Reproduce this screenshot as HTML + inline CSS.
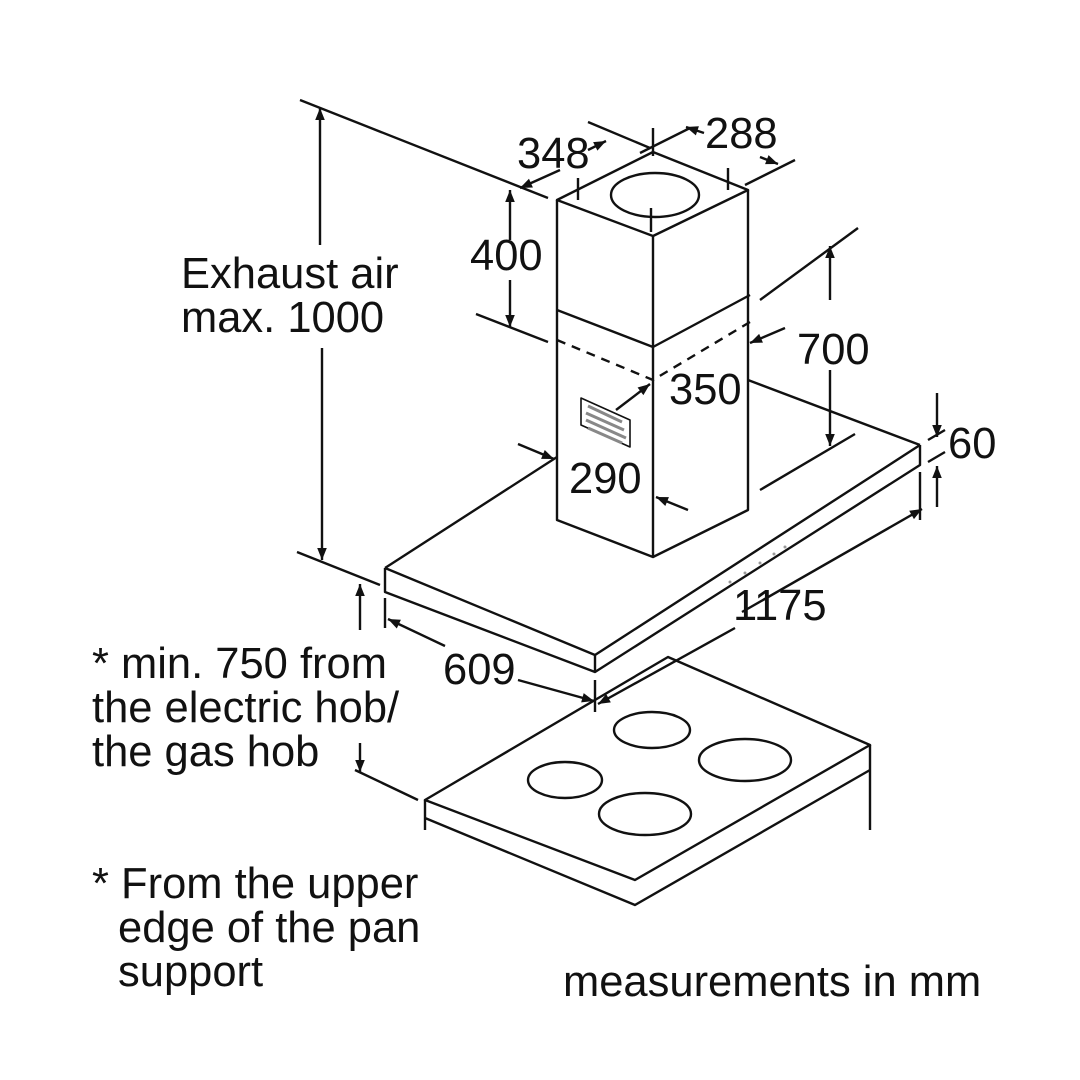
<!DOCTYPE html>
<html><head><meta charset="utf-8"><style>
html,body{margin:0;padding:0;background:#fff}
svg{display:block}
text{font-family:"Liberation Sans",Arial,sans-serif;fill:#111}
</style></head><body>
<svg width="1080" height="1080" viewBox="0 0 1080 1080" xmlns="http://www.w3.org/2000/svg">
<defs>
<marker id="a" viewBox="0 0 10 10" refX="10" refY="5" markerWidth="15" markerHeight="12" orient="auto-start-reverse" markerUnits="userSpaceOnUse"><path d="M0,1 L10,5 L0,9 z" fill="#111"/></marker>
</defs>
<g stroke="#111" stroke-width="2.4" fill="none" stroke-linejoin="round">
<path d="M557,200 L653,152 L748,190 L653,236 Z"/>
<ellipse cx="655" cy="195" rx="44" ry="22"/>
<path d="M578,178 v22 M653,128 v28 M728,168 v22 M651,208 v24"/>
<path d="M557,200 V520 L653,557 L748,510 V190"/>
<path d="M653,236 V557"/>
<path d="M557,310 L653,347 L750,295"/>
<path d="M557,340 L653,380 L750,322" stroke-dasharray="9,7"/>
<path d="M581,398 L630,420 L630,447 L581,425 Z" stroke-width="1.6"/>
<path d="M588,406 L622,422 M586,413 L624,430 M586,420 L626,438 M588,428 L622,443" stroke="#888" stroke-width="3"/>
<path d="M385,568 L595,655 L920,445 M385,568 L557,457 M748,380 L920,445"/>
<path d="M385,568 V592 L595,672 L920,465 V445 M595,655 V672"/>
<path d="M425,800 L635,880 L870,745 L668,657 Z"/>
<path d="M425,800 V830 M425,818 L635,905 L870,770 M870,745 V830"/>
<ellipse cx="652" cy="730" rx="38" ry="18"/>
<ellipse cx="745" cy="760" rx="46" ry="21"/>
<ellipse cx="565" cy="780" rx="37" ry="18"/>
<ellipse cx="645" cy="814" rx="46" ry="21"/>
<path d="M300,100 L548,198"/>
<path d="M320,245 V108" marker-end="url(#a)"/>
<path d="M322,348 V560" marker-end="url(#a)"/>
<path d="M297,552 L380,585"/>
<path d="M510,240 V190" marker-end="url(#a)"/>
<path d="M510,280 V327" marker-end="url(#a)"/>
<path d="M476,314 L548,342"/>
<path d="M588,122 L650,148 M690,128 L640,153 M745,185 L795,160"/>
<path d="M560,170 L520,188" marker-end="url(#a)"/>
<path d="M588,150 L606,141" marker-end="url(#a)"/>
<path d="M704,133 L686,127" marker-end="url(#a)"/>
<path d="M760,157 L778,164" marker-end="url(#a)"/>
<path d="M760,300 L858,228"/>
<path d="M830,300 V246" marker-end="url(#a)"/>
<path d="M830,370 V446" marker-end="url(#a)"/>
<path d="M760,490 L855,434"/>
<path d="M785,328 L750,343" marker-end="url(#a)"/>
<path d="M616,410 L650,384" marker-end="url(#a)"/>
<path d="M518,444 L554,459" marker-end="url(#a)"/>
<path d="M688,510 L656,497" marker-end="url(#a)"/>
<path d="M937,393 V437" marker-end="url(#a)"/>
<path d="M937,507 V466" marker-end="url(#a)"/>
<path d="M928,440 L945,430 M928,462 L945,452 M920,472 V520"/>
<path d="M742,612 L922,509" marker-end="url(#a)"/>
<path d="M735,628 L598,704" marker-end="url(#a)"/>
<path d="M385,598 V628 M595,680 V712"/>
<path d="M445,646 L388,619" marker-end="url(#a)"/>
<path d="M518,680 L594,701" marker-end="url(#a)"/>
<path d="M360,630 V584" marker-end="url(#a)"/>
<path d="M360,743 V772" marker-end="url(#a)"/>
<path d="M355,770 L418,800"/>
</g>
<g fill="#999"><circle cx="730" cy="582" r="1.5"/><circle cx="745" cy="573" r="1.5"/><circle cx="760" cy="563" r="1.5"/><circle cx="774" cy="554" r="1.5"/><circle cx="785" cy="547" r="1.5"/></g>
<g font-size="43.5">
<text x="181" y="288">Exhaust air</text>
<text x="181" y="332">max. 1000</text>
<text x="470" y="270">400</text>
<text x="517" y="168">348</text>
<text x="705" y="148">288</text>
<text x="797" y="364">700</text>
<text x="669" y="404">350</text>
<text x="569" y="493">290</text>
<text x="948" y="458">60</text>
<text x="733" y="620">1175</text>
<text x="443" y="684">609</text>
<text x="92" y="678">* min. 750 from</text>
<text x="92" y="722">the electric hob/</text>
<text x="92" y="766">the gas hob</text>
<text x="92" y="898">* From the upper</text>
<text x="118" y="942">edge of the pan</text>
<text x="118" y="986">support</text>
<text x="563" y="996">measurements in mm</text>
</g>
</svg>
</body></html>
